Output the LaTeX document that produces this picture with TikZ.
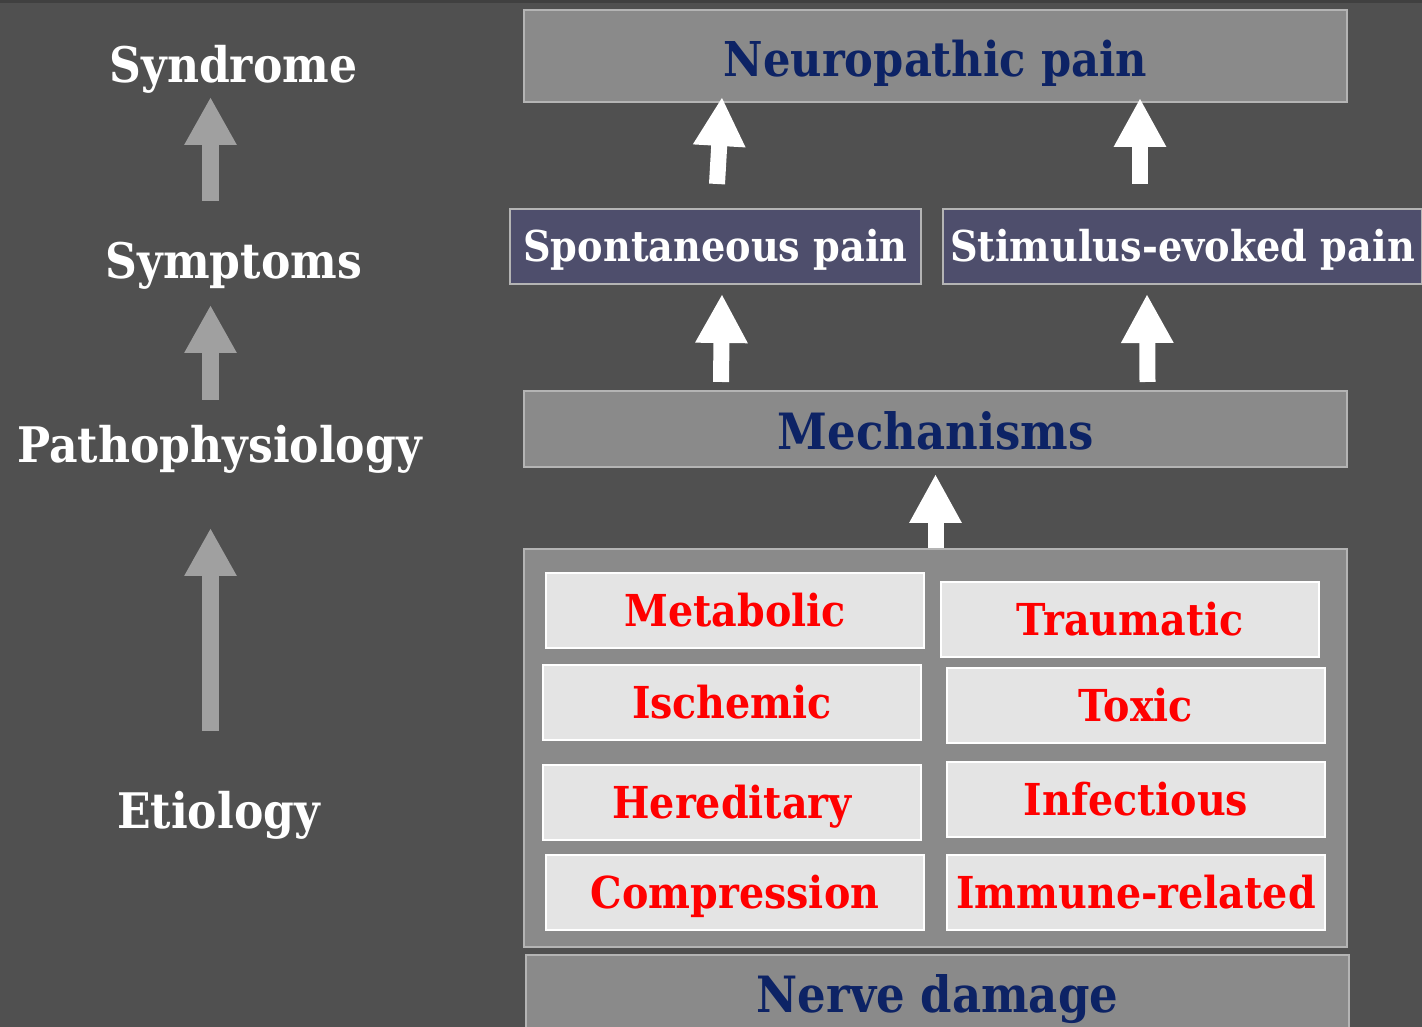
\documentclass[tikz,border=0pt]{standalone}
\usepackage{fontspec}
\setmainfont[FakeStretch=0.9]{DejaVu Serif}
\usetikzlibrary{arrows.meta}
\definecolor{bgc}{HTML}{505050}
\definecolor{boxg}{HTML}{8A8A8A}
\definecolor{boxline}{HTML}{B4B4B4}
\definecolor{slate}{HTML}{4E4E6C}
\definecolor{navy}{HTML}{0D2365}
\definecolor{inner}{HTML}{E4E4E4}
\definecolor{garrowc}{HTML}{A0A0A0}
\tikzset{
  basebox/.style={rectangle, inner sep=0pt, line width=2pt, text depth=0pt},
  graybox/.style={basebox, fill=boxg, draw=boxline, text=navy, text height=35pt},
  slatebox/.style={basebox, fill=slate, draw=boxline, text=white, text height=31pt,
    font=\fontsize{42.5}{44}\selectfont\bfseries},
  containerbox/.style={rectangle, inner sep=0pt, line width=2pt, fill=boxg, draw=boxline},
  causebox/.style={basebox, fill=inner, draw=white, text=red, minimum width=378pt, minimum height=75pt,
    text height=32pt, font=\fontsize{44}{46}\selectfont\bfseries},
  levellabel/.style={text=white, anchor=base, inner sep=0pt, font=\fontsize{49}{51}\selectfont\bfseries},
  warrow/.style={draw=white, line width=16pt, -{Triangle[length=49pt,width=49pt]}},
  garrow/.style={draw=garrowc, line width=17pt, -{Triangle[length=48pt,width=49pt]}}
}
\begin{document}
\begin{tikzpicture}[x=1pt,y=1pt]
\useasboundingbox (0,0) rectangle (1422,1027);
\fill[bgc] (0,0) rectangle (1422,1027);
\fill[black!75] (0,1024) rectangle (1422,1027);

% left level labels
\node[levellabel] (synd) at (233.5,944) {Syndrome};
\node[levellabel] (symp) at (234,748) {Symptoms};
\node[levellabel] (path) at (219.5,564) {Pathophysiology};
\node[levellabel] (etio) at (218.5,198) {Etiology};

\draw[garrow] ([xshift=-23.5pt,yshift=78pt]symp.base) -- ([xshift=-23pt,yshift=-14pt]synd.base);
\draw[garrow] ([xshift=-9pt,yshift=63pt]path.base) -- ([xshift=-23.5pt,yshift=-26pt]symp.base);
\draw[garrow] ([xshift=-8pt,yshift=98pt]etio.base) -- ([xshift=-9pt,yshift=-65pt]path.base);

% right column
\node[graybox, minimum width=823pt, minimum height=92pt, text height=41pt, font=\fontsize{48}{50}\selectfont\bfseries] (neuro) at (935.5,971) {Neuropathic pain};
\node[slatebox, minimum width=411pt, minimum height=75pt] (spont) at (715.5,780.5) {Spontaneous pain};
\node[slatebox, minimum width=479pt, minimum height=75pt] (stim) at (1182.5,780.5) {Stimulus-evoked pain};
\node[graybox, minimum width=823pt, minimum height=76pt, text height=41pt, font=\fontsize{50}{52}\selectfont\bfseries] (mech) at (935.5,598) {Mechanisms};
\node[containerbox, minimum width=823pt, minimum height=398pt] (cont) at (935.5,279) {};
\node[graybox, minimum width=823pt, minimum height=80pt, font=\fontsize{50}{52}\selectfont\bfseries] (nerve) at (937.5,32) {Nerve damage};

\node[causebox] (metab) at (735,416.5) {Metabolic};
\node[causebox] (traum) at (1130,407.5) {Traumatic};
\node[causebox] (isch) at (732,324.5) {Ischemic};
\node[causebox] (toxic) at (1136,321.5) {Toxic};
\node[causebox] (hered) at (732,224.5) {Hereditary};
\node[causebox] (infect) at (1136,227.5) {Infectious};
\node[causebox] (compr) at (735,134.5) {Compression};
\node[causebox] (immune) at (1136,134.5) {Immune-related};

% white arrows
\draw[warrow] ([xshift=1.5pt,yshift=24pt]spont.north) -- ([xshift=-213.5pt,yshift=6pt]neuro.south);
\draw[warrow] ([xshift=-42.5pt,yshift=24pt]stim.north) -- ([xshift=204.5pt,yshift=5pt]neuro.south);
\draw[warrow] ([xshift=-214.5pt,yshift=8pt]mech.north) -- ([xshift=6.5pt,yshift=-9pt]spont.south);
\draw[warrow] ([xshift=212pt,yshift=8pt]mech.north) -- ([xshift=-35.5pt,yshift=-9pt]stim.south);
\draw[warrow] (cont.north) -- ([yshift=-6pt]mech.south);
\end{tikzpicture}
\end{document}
